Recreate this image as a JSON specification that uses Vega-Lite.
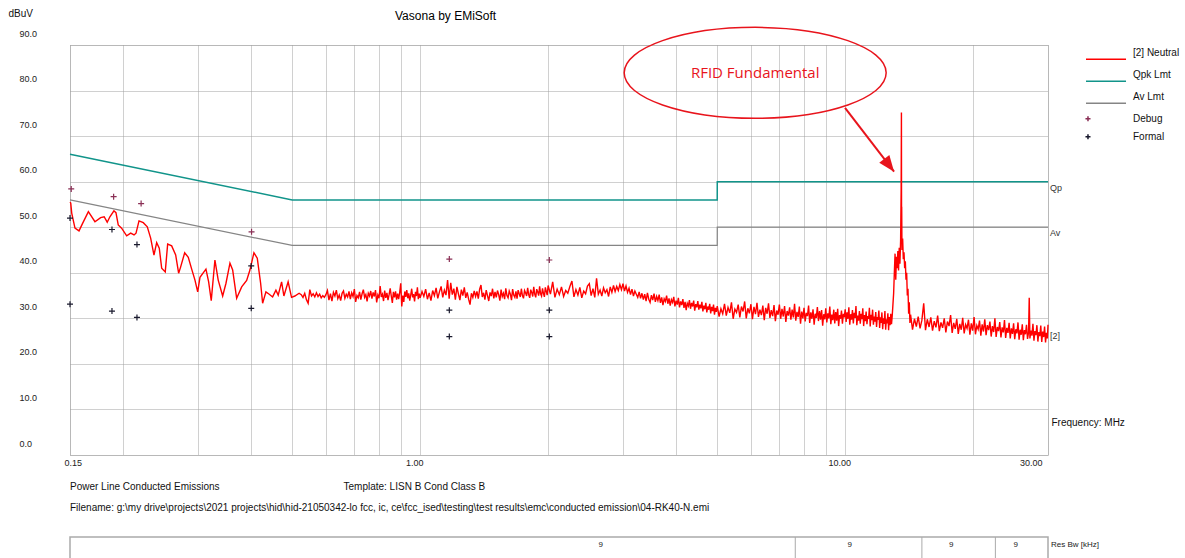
{
"$schema": "https://vega.github.io/schema/vega-lite/v6.json",
"width": 978, "height": 410,
"autosize": {"type": "none"},
"padding": {"left": 70, "top": 45, "right": 137, "bottom": 103},
"background": "white",
"title": {"text": "Vasona by EMiSoft", "anchor": "start", "dx": 387, "dy": 19, "fontSize": 12, "fontWeight": "normal", "font": "Liberation Sans", "color": "#000"},
"config": {
  "font": "Liberation Sans",
  "view": {"stroke": "#a0a0a0", "strokeDash": [1, 1]},
  "axis": {"gridColor": "#a0a0a0", "gridDash": [1, 1], "gridOpacity": 1, "domain": false, "ticks": false, "labelFont": "Liberation Sans", "labelColor": "#222", "titleFont": "Liberation Sans", "titleColor": "#111", "titleFontWeight": "normal", "labelOverlap": false}
},
"datasets": {
  "trace": [
{"f":0.15,"v":55.5},{"f":0.1506,"v":55.3},{"f":0.1514,"v":53.1},{"f":0.1541,"v":49.8},{"f":0.1575,"v":49.2},{"f":0.1607,"v":50.9},{"f":0.1657,"v":53.4},{"f":0.1717,"v":51.2},{"f":0.1771,"v":52.1},{"f":0.1805,"v":52.3},{"f":0.1835,"v":51.1},{"f":0.1862,"v":52.3},{"f":0.1903,"v":53.6},{"f":0.1924,"v":53.2},{"f":0.1948,"v":50.5},{"f":0.1984,"v":49.8},{"f":0.2039,"v":48.1},{"f":0.2084,"v":48.7},{"f":0.2122,"v":48.3},{"f":0.2145,"v":48.7},{"f":0.218,"v":51.4},{"f":0.2231,"v":51.0},{"f":0.228,"v":50.1},{"f":0.2322,"v":47.6},{"f":0.2364,"v":43.9},{"f":0.2399,"v":46.6},{"f":0.2433,"v":45.4},{"f":0.2465,"v":41.0},{"f":0.2513,"v":40.2},{"f":0.2546,"v":46.3},{"f":0.2602,"v":45.9},{"f":0.2659,"v":43.9},{"f":0.2702,"v":39.9},{"f":0.2732,"v":41.3},{"f":0.2792,"v":44.4},{"f":0.2847,"v":43.4},{"f":0.29,"v":40.8},{"f":0.2952,"v":38.4},{"f":0.2996,"v":35.8},{"f":0.3033,"v":39.0},{"f":0.3133,"v":40.8},{"f":0.3179,"v":38.0},{"f":0.3224,"v":33.9},{"f":0.3289,"v":42.8},{"f":0.3348,"v":38.4},{"f":0.343,"v":34.9},{"f":0.3492,"v":37.7},{"f":0.3568,"v":42.1},{"f":0.3621,"v":40.6},{"f":0.37,"v":34.4},{"f":0.3802,"v":36.9},{"f":0.3906,"v":38.3},{"f":0.3976,"v":40.6},{"f":0.4063,"v":44.4},{"f":0.4137,"v":43.2},{"f":0.4213,"v":37.7},{"f":0.4259,"v":33.3},{"f":0.4336,"v":35.8},{"f":0.4414,"v":35.3},{"f":0.4496,"v":34.7},{"f":0.4577,"v":36.2},{"f":0.4634,"v":35.1},{"f":0.472,"v":38.0},{"f":0.4779,"v":34.9},{"f":0.489,"v":38.0},{"f":0.4981,"v":34.6},{"f":0.5071,"v":34.9},{"f":0.519,"v":35.5},
{"f":0.525,"v":35.2},{"f":0.53,"v":34.6},{"f":0.535,"v":35.5},{"f":0.54,"v":34.1},{"f":0.545,"v":33.3},{"f":0.55,"v":36.3},{"f":0.555,"v":34.9},{"f":0.56,"v":35.4},{"f":0.565,"v":34.7},{"f":0.57,"v":35.6},{"f":0.575,"v":34.8},{"f":0.58,"v":35.3},{"f":0.585,"v":34.5},{"f":0.59,"v":35.0},{"f":0.595,"v":34.6},{"f":0.6,"v":35.2},{"f":0.605,"v":36.1},{"f":0.61,"v":34.0},{"f":0.615,"v":35.4},{"f":0.62,"v":33.8},{"f":0.625,"v":35.7},{"f":0.63,"v":34.9},{"f":0.635,"v":36.2},{"f":0.64,"v":34.3},{"f":0.645,"v":35.1},{"f":0.65,"v":33.9},{"f":0.655,"v":35.5},{"f":0.66,"v":36.0},{"f":0.665,"v":34.4},{"f":0.67,"v":35.3},{"f":0.675,"v":34.7},{"f":0.68,"v":35.9},{"f":0.685,"v":34.2},{"f":0.69,"v":35.6},{"f":0.695,"v":34.8},{"f":0.7,"v":36.4},{"f":0.705,"v":33.6},{"f":0.71,"v":35.0},{"f":0.715,"v":34.5},{"f":0.72,"v":35.8},{"f":0.725,"v":34.1},{"f":0.73,"v":35.4},{"f":0.735,"v":36.3},{"f":0.74,"v":34.6},{"f":0.745,"v":35.2},{"f":0.75,"v":33.7},{"f":0.755,"v":35.5},{"f":0.76,"v":34.9},{"f":0.765,"v":36.0},{"f":0.77,"v":34.3},{"f":0.775,"v":35.7},{"f":0.78,"v":34.8},{"f":0.785,"v":36.2},{"f":0.79,"v":33.5},{"f":0.795,"v":35.1},{"f":0.8,"v":34.4},{"f":0.805,"v":37.1},{"f":0.81,"v":34.7},{"f":0.815,"v":35.3},{"f":0.82,"v":33.8},{"f":0.825,"v":36.1},{"f":0.83,"v":34.5},{"f":0.835,"v":35.6},{"f":0.84,"v":34.0},{"f":0.845,"v":35.2},{"f":0.85,"v":36.6},{"f":0.855,"v":34.9},{"f":0.86,"v":33.4},{"f":0.865,"v":35.8},{"f":0.87,"v":34.6},{"f":0.875,"v":35.9},{"f":0.88,"v":34.1},{"f":0.885,"v":35.4},{"f":0.89,"v":34.2},{"f":0.895,"v":35.7},{"f":0.9,"v":37.7},{"f":0.905,"v":32.6},{"f":0.91,"v":35.0},{"f":0.915,"v":33.6},{"f":0.92,"v":35.9},{"f":0.925,"v":34.7},{"f":0.93,"v":36.2},{"f":0.935,"v":34.4},{"f":0.94,"v":35.5},{"f":0.945,"v":33.9},{"f":0.95,"v":35.1},{"f":0.955,"v":36.5},{"f":0.96,"v":34.6},{"f":0.965,"v":35.3},{"f":0.97,"v":33.7},{"f":0.975,"v":35.8},{"f":0.98,"v":34.9},{"f":0.985,"v":36.8},{"f":0.99,"v":34.2},{"f":0.995,"v":35.4},
{"f":1.0,"v":34.5},{"f":1.01,"v":35.9},{"f":1.02,"v":34.8},{"f":1.03,"v":36.4},{"f":1.04,"v":34.2},{"f":1.05,"v":35.6},{"f":1.06,"v":33.9},{"f":1.07,"v":36.1},{"f":1.08,"v":35.0},{"f":1.09,"v":36.7},{"f":1.1,"v":34.4},{"f":1.11,"v":35.8},{"f":1.12,"v":37.0},{"f":1.13,"v":34.6},{"f":1.14,"v":36.2},{"f":1.15,"v":35.1},{"f":1.16,"v":38.4},{"f":1.17,"v":34.3},{"f":1.18,"v":37.8},{"f":1.19,"v":35.2},{"f":1.2,"v":36.5},{"f":1.21,"v":34.1},{"f":1.22,"v":36.9},{"f":1.23,"v":35.4},{"f":1.24,"v":34.0},{"f":1.25,"v":36.3},{"f":1.26,"v":35.0},{"f":1.27,"v":36.8},{"f":1.28,"v":34.5},{"f":1.29,"v":35.7},{"f":1.3,"v":34.2},{"f":1.31,"v":33.0},{"f":1.32,"v":35.5},{"f":1.33,"v":34.6},{"f":1.34,"v":36.0},{"f":1.35,"v":34.8},{"f":1.36,"v":35.9},{"f":1.37,"v":34.3},{"f":1.38,"v":36.4},{"f":1.39,"v":37.3},{"f":1.4,"v":34.7},{"f":1.41,"v":35.6},{"f":1.42,"v":34.1},{"f":1.43,"v":36.2},{"f":1.44,"v":35.0},{"f":1.45,"v":33.8},{"f":1.46,"v":35.7},{"f":1.47,"v":34.9},{"f":1.48,"v":36.5},{"f":1.49,"v":34.4},{"f":1.5,"v":35.8},{"f":1.51,"v":34.6},{"f":1.52,"v":36.1},{"f":1.53,"v":35.2},{"f":1.54,"v":33.9},{"f":1.55,"v":36.3},{"f":1.56,"v":34.8},{"f":1.57,"v":35.5},{"f":1.58,"v":34.2},{"f":1.59,"v":36.6},{"f":1.6,"v":35.0},{"f":1.61,"v":34.5},{"f":1.62,"v":36.0},{"f":1.63,"v":35.3},{"f":1.64,"v":34.0},{"f":1.65,"v":36.4},{"f":1.66,"v":35.1},{"f":1.67,"v":34.6},{"f":1.68,"v":35.9},{"f":1.69,"v":34.3},{"f":1.7,"v":36.2},{"f":1.71,"v":35.4},{"f":1.72,"v":34.7},{"f":1.73,"v":36.5},{"f":1.74,"v":35.0},{"f":1.75,"v":34.4},{"f":1.76,"v":36.1},{"f":1.77,"v":35.6},{"f":1.78,"v":34.9},{"f":1.79,"v":36.7},{"f":1.8,"v":35.2},{"f":1.81,"v":34.5},{"f":1.82,"v":36.3},{"f":1.83,"v":35.7},{"f":1.84,"v":34.8},{"f":1.85,"v":36.9},{"f":1.86,"v":35.3},{"f":1.87,"v":34.6},{"f":1.88,"v":36.4},{"f":1.89,"v":35.8},{"f":1.9,"v":35.0},{"f":1.91,"v":37.0},{"f":1.92,"v":35.4},{"f":1.93,"v":34.9},{"f":1.94,"v":36.6},{"f":1.95,"v":35.5},{"f":1.96,"v":34.7},{"f":1.97,"v":36.8},{"f":1.98,"v":35.9},{"f":1.99,"v":35.1},{"f":2.0,"v":37.2},
{"f":2.025,"v":35.3},{"f":2.05,"v":38.0},{"f":2.075,"v":34.6},{"f":2.1,"v":36.4},{"f":2.125,"v":35.2},{"f":2.15,"v":36.9},{"f":2.175,"v":34.8},{"f":2.2,"v":36.1},{"f":2.225,"v":35.5},{"f":2.25,"v":37.0},{"f":2.275,"v":38.2},{"f":2.3,"v":34.7},{"f":2.325,"v":36.3},{"f":2.35,"v":35.1},{"f":2.375,"v":36.8},{"f":2.4,"v":34.5},{"f":2.425,"v":36.0},{"f":2.45,"v":35.4},{"f":2.475,"v":37.1},{"f":2.5,"v":37.6},{"f":2.525,"v":35.0},{"f":2.55,"v":36.5},{"f":2.575,"v":34.6},{"f":2.6,"v":38.8},{"f":2.625,"v":35.3},{"f":2.65,"v":36.2},{"f":2.675,"v":34.9},{"f":2.7,"v":36.7},{"f":2.725,"v":35.6},{"f":2.75,"v":36.3},{"f":2.775,"v":34.8},{"f":2.8,"v":36.9},{"f":2.825,"v":35.7},{"f":2.85,"v":37.2},{"f":2.875,"v":35.9},{"f":2.9,"v":37.0},{"f":2.925,"v":36.1},{"f":2.95,"v":37.4},{"f":2.975,"v":36.3},{"f":3.0,"v":37.6},{"f":3.025,"v":36.0},{"f":3.05,"v":37.1},{"f":3.075,"v":35.7},{"f":3.1,"v":36.6},{"f":3.125,"v":35.2},{"f":3.15,"v":36.4},{"f":3.175,"v":34.9},{"f":3.2,"v":36.0},{"f":3.225,"v":35.3},{"f":3.25,"v":34.6},{"f":3.275,"v":35.8},{"f":3.3,"v":34.4},{"f":3.325,"v":35.5},{"f":3.35,"v":34.1},{"f":3.375,"v":35.3},{"f":3.4,"v":33.8},{"f":3.425,"v":35.6},{"f":3.45,"v":34.2},{"f":3.475,"v":33.5},{"f":3.5,"v":35.1},{"f":3.525,"v":34.0},{"f":3.55,"v":35.4},{"f":3.575,"v":33.6},{"f":3.6,"v":34.8},{"f":3.625,"v":33.9},{"f":3.65,"v":35.2},{"f":3.675,"v":33.4},{"f":3.7,"v":34.6},{"f":3.725,"v":32.9},{"f":3.75,"v":34.3},{"f":3.775,"v":33.7},{"f":3.8,"v":35.0},{"f":3.825,"v":33.2},{"f":3.85,"v":34.4},{"f":3.875,"v":32.8},{"f":3.9,"v":34.1},{"f":3.925,"v":33.5},{"f":3.95,"v":34.7},{"f":3.975,"v":32.6},{"f":4.0,"v":33.9},{"f":4.025,"v":33.0},{"f":4.05,"v":34.5},{"f":4.075,"v":32.4},{"f":4.1,"v":33.7},{"f":4.125,"v":32.9},{"f":4.15,"v":34.2},{"f":4.175,"v":32.3},{"f":4.2,"v":33.6},{"f":4.225,"v":31.8},{"f":4.25,"v":33.3},{"f":4.275,"v":32.7},{"f":4.3,"v":34.0},{"f":4.325,"v":32.1},{"f":4.35,"v":33.4},{"f":4.375,"v":32.6},{"f":4.4,"v":33.9},{"f":4.425,"v":31.7},{"f":4.45,"v":33.1},{"f":4.475,"v":32.4},{"f":4.5,"v":33.8},{"f":4.525,"v":31.9},{"f":4.55,"v":33.0},{"f":4.575,"v":32.2},{"f":4.6,"v":33.6},{"f":4.625,"v":31.5},{"f":4.65,"v":32.8},{"f":4.675,"v":32.0},{"f":4.7,"v":33.4},{"f":4.725,"v":31.3},{"f":4.75,"v":32.6},{"f":4.775,"v":31.9},{"f":4.8,"v":33.2},{"f":4.825,"v":31.1},{"f":4.85,"v":32.5},{"f":4.875,"v":31.6},{"f":4.9,"v":33.0},{"f":4.925,"v":30.8},{"f":4.95,"v":32.3},{"f":4.975,"v":31.4},
{"f":5.0,"v":32.7},{"f":5.05,"v":30.4},{"f":5.1,"v":32.1},{"f":5.15,"v":31.0},{"f":5.2,"v":33.2},{"f":5.25,"v":30.6},{"f":5.3,"v":32.4},{"f":5.35,"v":31.2},{"f":5.4,"v":33.5},{"f":5.45,"v":29.9},{"f":5.5,"v":32.0},{"f":5.55,"v":31.3},{"f":5.6,"v":33.0},{"f":5.65,"v":30.2},{"f":5.7,"v":32.6},{"f":5.75,"v":31.5},{"f":5.8,"v":33.7},{"f":5.85,"v":30.0},{"f":5.9,"v":32.2},{"f":5.95,"v":31.1},{"f":6.0,"v":33.1},{"f":6.05,"v":29.8},{"f":6.1,"v":32.5},{"f":6.15,"v":30.9},{"f":6.2,"v":33.4},{"f":6.25,"v":30.3},{"f":6.3,"v":31.9},{"f":6.35,"v":30.7},{"f":6.4,"v":32.8},{"f":6.45,"v":29.6},{"f":6.5,"v":32.3},{"f":6.55,"v":31.0},{"f":6.6,"v":33.3},{"f":6.65,"v":30.1},{"f":6.7,"v":31.8},{"f":6.75,"v":30.5},{"f":6.8,"v":32.9},{"f":6.85,"v":29.4},{"f":6.9,"v":31.7},{"f":6.95,"v":30.8},{"f":7.0,"v":33.0},{"f":7.05,"v":29.9},{"f":7.1,"v":32.1},{"f":7.15,"v":30.4},{"f":7.2,"v":32.7},{"f":7.25,"v":29.2},{"f":7.3,"v":31.6},{"f":7.35,"v":30.6},{"f":7.4,"v":32.4},{"f":7.45,"v":29.7},{"f":7.5,"v":31.9},{"f":7.55,"v":30.2},{"f":7.6,"v":33.2},{"f":7.65,"v":29.5},{"f":7.7,"v":31.4},{"f":7.75,"v":30.3},{"f":7.8,"v":32.6},{"f":7.85,"v":28.8},{"f":7.9,"v":31.5},{"f":7.95,"v":30.0},{"f":8.0,"v":32.3},{"f":8.05,"v":29.3},{"f":8.1,"v":31.2},{"f":8.15,"v":30.5},{"f":8.2,"v":32.8},{"f":8.25,"v":29.0},{"f":8.3,"v":31.3},{"f":8.35,"v":29.9},{"f":8.4,"v":32.0},{"f":8.45,"v":28.6},{"f":8.5,"v":31.0},{"f":8.55,"v":30.1},{"f":8.6,"v":32.5},{"f":8.65,"v":29.4},{"f":8.7,"v":31.6},{"f":8.75,"v":29.7},{"f":8.8,"v":31.8},{"f":8.85,"v":28.4},{"f":8.9,"v":30.9},{"f":8.95,"v":29.8},{"f":9.0,"v":32.2},{"f":9.05,"v":29.1},{"f":9.1,"v":31.1},{"f":9.15,"v":30.0},{"f":9.2,"v":32.6},{"f":9.25,"v":28.7},{"f":9.3,"v":30.8},{"f":9.35,"v":29.6},{"f":9.4,"v":31.9},{"f":9.45,"v":28.9},{"f":9.5,"v":31.4},{"f":9.55,"v":29.5},{"f":9.6,"v":32.1},{"f":9.65,"v":28.3},{"f":9.7,"v":30.7},{"f":9.75,"v":29.9},{"f":9.8,"v":31.7},{"f":9.85,"v":28.8},{"f":9.9,"v":31.0},{"f":9.95,"v":30.2},
{"f":10.0,"v":32.0},{"f":10.05,"v":29.2},{"f":10.1,"v":31.3},{"f":10.15,"v":29.9},{"f":10.2,"v":32.4},{"f":10.25,"v":28.6},{"f":10.3,"v":30.9},{"f":10.35,"v":29.7},{"f":10.4,"v":31.8},{"f":10.45,"v":28.9},{"f":10.5,"v":31.2},{"f":10.55,"v":30.1},{"f":10.6,"v":32.7},{"f":10.65,"v":28.5},{"f":10.7,"v":30.6},{"f":10.75,"v":29.5},{"f":10.8,"v":31.6},{"f":10.85,"v":28.8},{"f":10.9,"v":31.0},{"f":10.95,"v":29.8},{"f":11.0,"v":32.2},{"f":11.05,"v":28.3},{"f":11.1,"v":30.7},{"f":11.15,"v":29.4},{"f":11.2,"v":31.5},{"f":11.25,"v":28.7},{"f":11.3,"v":30.5},{"f":11.35,"v":29.9},{"f":11.4,"v":32.3},{"f":11.45,"v":28.2},{"f":11.5,"v":30.8},{"f":11.55,"v":29.6},{"f":11.6,"v":31.9},{"f":11.65,"v":28.6},{"f":11.7,"v":30.4},{"f":11.75,"v":29.3},{"f":11.8,"v":31.4},{"f":11.85,"v":28.1},{"f":11.9,"v":30.3},{"f":11.95,"v":29.7},{"f":12.0,"v":31.7},{"f":12.05,"v":27.9},{"f":12.1,"v":30.2},{"f":12.15,"v":29.0},{"f":12.2,"v":31.3},{"f":12.25,"v":27.6},{"f":12.3,"v":30.0},{"f":12.35,"v":28.8},{"f":12.4,"v":31.6},{"f":12.45,"v":27.5},{"f":12.5,"v":29.8},{"f":12.55,"v":28.9},{"f":12.6,"v":31.1},{"f":12.65,"v":27.4},{"f":12.7,"v":30.3},{"f":12.75,"v":28.5},{"f":12.8,"v":31.0},{"f":12.85,"v":28.7},
{"f":12.9,"v":30.5},{"f":12.95,"v":33.0},{"f":13.0,"v":35.5},{"f":13.05,"v":40.0},{"f":13.1,"v":44.2},{"f":13.15,"v":38.5},{"f":13.2,"v":43.5},{"f":13.25,"v":41.0},{"f":13.3,"v":44.8},{"f":13.35,"v":40.5},{"f":13.4,"v":45.5},{"f":13.45,"v":42.0},{"f":13.5,"v":47.0},{"f":13.54,"v":58.0},{"f":13.56,"v":75.2},{"f":13.57,"v":50.0},{"f":13.58,"v":54.5},{"f":13.6,"v":45.0},{"f":13.65,"v":47.5},{"f":13.7,"v":43.0},{"f":13.75,"v":44.5},{"f":13.8,"v":41.0},{"f":13.85,"v":42.5},{"f":13.9,"v":38.5},{"f":13.95,"v":40.0},{"f":14.0,"v":35.0},{"f":14.05,"v":36.5},{"f":14.1,"v":31.0},{"f":14.15,"v":33.5},{"f":14.2,"v":29.0},
{"f":14.25,"v":30.8},{"f":14.4,"v":27.5},{"f":14.55,"v":29.9},{"f":14.7,"v":28.2},{"f":14.85,"v":30.4},{"f":15.0,"v":27.8},{"f":15.15,"v":29.6},{"f":15.3,"v":33.3},{"f":15.45,"v":27.4},{"f":15.6,"v":29.8},{"f":15.75,"v":28.1},{"f":15.9,"v":30.2},{"f":16.05,"v":27.3},{"f":16.2,"v":29.4},{"f":16.35,"v":28.0},{"f":16.5,"v":30.6},{"f":16.65,"v":27.2},{"f":16.8,"v":29.1},{"f":16.95,"v":27.9},{"f":17.1,"v":30.0},{"f":17.25,"v":26.9},{"f":17.4,"v":29.3},{"f":17.55,"v":28.3},{"f":17.7,"v":30.7},{"f":17.85,"v":26.8},{"f":18.0,"v":29.0},{"f":18.15,"v":27.7},{"f":18.3,"v":29.9},{"f":18.45,"v":26.6},{"f":18.6,"v":28.8},{"f":18.75,"v":27.5},{"f":18.9,"v":30.1},{"f":19.05,"v":26.7},{"f":19.2,"v":28.6},{"f":19.35,"v":27.8},{"f":19.5,"v":29.7},{"f":19.65,"v":26.4},{"f":19.8,"v":28.9},{"f":19.95,"v":27.3},{"f":20.1,"v":30.3},{"f":20.25,"v":26.5},{"f":20.4,"v":28.4},{"f":20.55,"v":27.6},{"f":20.7,"v":29.5},{"f":20.85,"v":26.2},{"f":21.0,"v":28.7},{"f":21.15,"v":27.1},{"f":21.3,"v":29.8},{"f":21.45,"v":26.3},{"f":21.6,"v":28.5},{"f":21.75,"v":27.4},{"f":21.9,"v":29.3},{"f":22.05,"v":26.0},{"f":22.2,"v":28.3},{"f":22.35,"v":27.0},{"f":22.5,"v":30.0},{"f":22.65,"v":25.9},{"f":22.8,"v":28.1},{"f":22.95,"v":27.2},{"f":23.1,"v":29.2},{"f":23.25,"v":25.8},{"f":23.4,"v":28.0},{"f":23.55,"v":26.9},{"f":23.7,"v":29.6},{"f":23.85,"v":25.7},{"f":24.0,"v":27.9},{"f":24.15,"v":26.8},{"f":24.3,"v":29.0},{"f":24.45,"v":25.6},{"f":24.6,"v":27.8},{"f":24.75,"v":26.6},{"f":24.9,"v":28.9},{"f":25.05,"v":25.4},{"f":25.2,"v":27.6},{"f":25.35,"v":26.7},{"f":25.5,"v":29.1},{"f":25.65,"v":25.3},{"f":25.8,"v":27.5},{"f":25.95,"v":26.4},{"f":26.1,"v":28.7},{"f":26.25,"v":25.2},{"f":26.4,"v":27.4},{"f":26.55,"v":26.5},{"f":26.7,"v":28.6},{"f":26.85,"v":25.5},{"f":27.0,"v":26.9},{"f":27.1,"v":34.5},{"f":27.2,"v":25.6},{"f":27.35,"v":27.3},{"f":27.5,"v":26.2},{"f":27.65,"v":28.8},{"f":27.8,"v":25.1},{"f":27.95,"v":27.2},{"f":28.1,"v":26.3},{"f":28.25,"v":28.5},{"f":28.4,"v":24.9},{"f":28.55,"v":27.0},{"f":28.7,"v":26.1},{"f":28.85,"v":28.4},{"f":29.0,"v":24.8},{"f":29.15,"v":27.1},{"f":29.3,"v":25.9},{"f":29.45,"v":28.2},{"f":29.6,"v":24.7},{"f":29.75,"v":26.8},{"f":29.9,"v":25.6},{"f":30.0,"v":28.6}
  ],
  "qpk": [{"f":0.15,"v":66},{"f":0.5,"v":56},{"f":4.999,"v":56},{"f":5,"v":60},{"f":30,"v":60}],
  "av": [{"f":0.15,"v":56},{"f":0.5,"v":46},{"f":4.999,"v":46},{"f":5,"v":50},{"f":30,"v":50}],
  "debug": [{"f":0.151,"v":58.4},{"f":0.19,"v":56.7},{"f":0.2205,"v":55.2},{"f":0.4011,"v":49.0},{"f":1.171,"v":43.0},{"f":2.013,"v":42.8}],
  "formal": [{"f":0.15,"v":52.0},{"f":0.15,"v":33.1},{"f":0.1883,"v":49.5},{"f":0.1883,"v":31.6},{"f":0.2156,"v":46.2},{"f":0.2156,"v":30.2},{"f":0.4004,"v":41.5},{"f":0.4004,"v":32.2},{"f":1.171,"v":31.8},{"f":1.171,"v":26.0},{"f":2.013,"v":31.8},{"f":2.013,"v":26.0}],
  "endLabels": [{"f":30,"v":58.7,"t":"Qp"},{"f":30,"v":48.8,"t":"Av"},{"f":30,"v":26.1,"t":"[2]"}],
  "footer": [{"f":0.15,"v":-6.96,"t":"Power Line Conducted Emissions"},{"f":0.66,"v":-6.96,"t":"Template: LISN B Cond Class B"},{"f":0.15,"v":-11.7,"t":"Filename: g:\\my drive\\projects\\2021 projects\\hid\\hid-21050342-lo fcc, ic, ce\\fcc_ised\\testing\\test results\\emc\\conducted emission\\04-RK40-N.emi"}],
  "tableBox": [{"f":0.15,"v":-18,"f2":30,"v2":-30}],
  "dividers": [{"f":7.63,"v":-18,"v2":-30},{"f":15.15,"v":-18,"v2":-30},{"f":22.56,"v":-18,"v2":-30}],
  "resbw": [{"f":2.66,"v":-19.8,"t":"9"},{"f":10.25,"v":-19.8,"t":"9"},{"f":17.76,"v":-19.8,"t":"9"},{"f":25.2,"v":-19.8,"t":"9"}],
  "resbwLabel": [{"f":30.5,"v":-19.8,"t":"Res Bw [kHz]"}],
  "callout": [{"f":6.14,"v":83.9,"t":"RFID Fundamental"}],
  "arrow": [{"f":9.99,"v":76.2,"f2":13.03,"v2":62.2}],
  "arrowTip": [{"f":13.03,"v":62.2}]
},
"encoding": {
  "x": {"field": "f", "type": "quantitative",
        "scale": {"type": "log", "domain": [0.15, 30], "nice": false},
        "axis": {"values": [0.15,0.2,0.3,0.4,0.5,0.6,0.7,0.8,0.9,1,2,3,4,5,6,7,8,9,10,20,30],
                 "labelExpr": "indexof([0.15,1,10,30], datum.value) >= 0 ? format(datum.value, '.2f') : ''",
                 "labelFontSize": 9, "labelOffset": -6, "labelPadding": 3,
                 "title": "Frequency: MHz", "titleX": 981, "titleY": -33, "titleAlign": "left", "titleBaseline": "middle", "titleFontSize": 10, "titleAngle": 0}},
  "y": {"field": "v", "type": "quantitative",
        "scale": {"domain": [0, 90], "nice": false, "zero": false},
        "axis": {"values": [0,10,20,30,40,50,60,70,80,90], "format": ".1f",
                 "labelAlign": "left", "labelPadding": 51, "labelOffset": -12, "labelFontSize": 9,
                 "title": "dBuV", "titleX": -62, "titleY": -32, "titleAngle": 0, "titleAlign": "left", "titleBaseline": "middle", "titleFontSize": 10}}
},
"layer": [
  {"data": {"name": "tableBox"}, "mark": {"type": "rect", "fill": null, "stroke": "#aaaaaa", "strokeWidth": 1.5},
   "encoding": {"x2": {"field": "f2"}, "y2": {"field": "v2"}}},
  {"data": {"name": "dividers"}, "mark": {"type": "rule", "color": "#aaaaaa", "strokeWidth": 1},
   "encoding": {"y2": {"field": "v2"}}},
  {"data": {"name": "resbw"}, "mark": {"type": "text", "fontSize": 8, "color": "#222", "align": "center", "baseline": "middle"},
   "encoding": {"text": {"field": "t"}}},
  {"data": {"name": "resbwLabel"}, "mark": {"type": "text", "fontSize": 8, "color": "#222", "align": "left", "baseline": "middle"},
   "encoding": {"text": {"field": "t"}}},
  {"data": {"name": "footer"}, "mark": {"type": "text", "fontSize": 10, "color": "#111", "align": "left", "baseline": "middle"},
   "encoding": {"text": {"field": "t"}}},
  {"data": {"name": "qpk"}, "mark": {"type": "line", "strokeWidth": 1.5},
   "encoding": {"color": {"datum": "Qpk Lmt", "type": "nominal",
      "scale": {"domain": ["[2] Neutral","Qpk Lmt","Av Lmt","Debug","Formal"], "range": ["#ff0000","#11948a","#858585","#8a2f55","#1a1a2e"]},
      "legend": {"title": null, "orient": "none", "legendX": 1015, "legendY": 0.7, "padding": 0,
        "symbolSize": 144, "symbolStrokeWidth": 1.5, "symbolType": "stroke",
        "labelOffset": 34, "labelFontSize": 10, "labelColor": "#111", "labelFont": "Liberation Sans",
        "rowPadding": 5, "direction": "vertical",
        "encode": {"symbols": {"update": {
          "shape": {"signal": "datum.value === 'Debug' || datum.value === 'Formal' ? 'M-1.09,0H-0.25M-0.67,-0.42V0.42' : 'M-1,1.1H5.67'"},
          "fill": {"value": "transparent"},
          "strokeWidth": {"value": 1.5}}}}}}}},
  {"data": {"name": "av"}, "mark": {"type": "line", "strokeWidth": 1.2},
   "encoding": {"color": {"datum": "Av Lmt", "type": "nominal",
      "scale": {"domain": ["[2] Neutral","Qpk Lmt","Av Lmt","Debug","Formal"], "range": ["#ff0000","#11948a","#858585","#8a2f55","#1a1a2e"]}}}},
  {"data": {"name": "trace"}, "mark": {"type": "line", "strokeWidth": 1.4},
   "encoding": {"color": {"datum": "[2] Neutral", "type": "nominal",
      "scale": {"domain": ["[2] Neutral","Qpk Lmt","Av Lmt","Debug","Formal"], "range": ["#ff0000","#11948a","#858585","#8a2f55","#1a1a2e"]}}}},
  {"data": {"name": "debug"}, "mark": {"type": "point", "shape": "M-1,0H1M0,-1V1", "size": 36, "filled": false, "strokeWidth": 1.2, "opacity": 1},
   "encoding": {"color": {"datum": "Debug", "type": "nominal",
      "scale": {"domain": ["[2] Neutral","Qpk Lmt","Av Lmt","Debug","Formal"], "range": ["#ff0000","#11948a","#858585","#8a2f55","#1a1a2e"]}}}},
  {"data": {"name": "formal"}, "mark": {"type": "point", "shape": "M-1,0H1M0,-1V1", "size": 36, "filled": false, "strokeWidth": 1.2, "opacity": 1},
   "encoding": {"color": {"datum": "Formal", "type": "nominal",
      "scale": {"domain": ["[2] Neutral","Qpk Lmt","Av Lmt","Debug","Formal"], "range": ["#ff0000","#11948a","#858585","#8a2f55","#1a1a2e"]}}}},
  {"data": {"name": "endLabels"}, "mark": {"type": "text", "fontSize": 9, "color": "#333", "align": "left", "baseline": "middle", "dx": 2},
   "encoding": {"text": {"field": "t"}}},
  {"data": {"name": "callout"}, "mark": {"type": "point", "shape": "M-1,0A1,0.347 0 1,1 1,0A1,0.347 0 1,1 -1,0Z", "size": 68644, "filled": false, "stroke": "#e8141c", "strokeWidth": 1.5, "opacity": 1}},
  {"data": {"name": "callout"}, "mark": {"type": "text", "font": "Open Sans", "fontSize": 15, "color": "#e8141c", "align": "center", "baseline": "middle"},
   "encoding": {"text": {"field": "t"}}},
  {"data": {"name": "arrow"}, "mark": {"type": "rule", "color": "#e8141c", "strokeWidth": 2},
   "encoding": {"x2": {"field": "f2"}, "y2": {"field": "v2"}}},
  {"data": {"name": "arrowTip"}, "mark": {"type": "point", "shape": "M0,0L-0.8,-2L0.8,-2Z", "size": 256, "filled": true, "color": "#e8141c", "angle": 322.4, "opacity": 1}}
]
}
